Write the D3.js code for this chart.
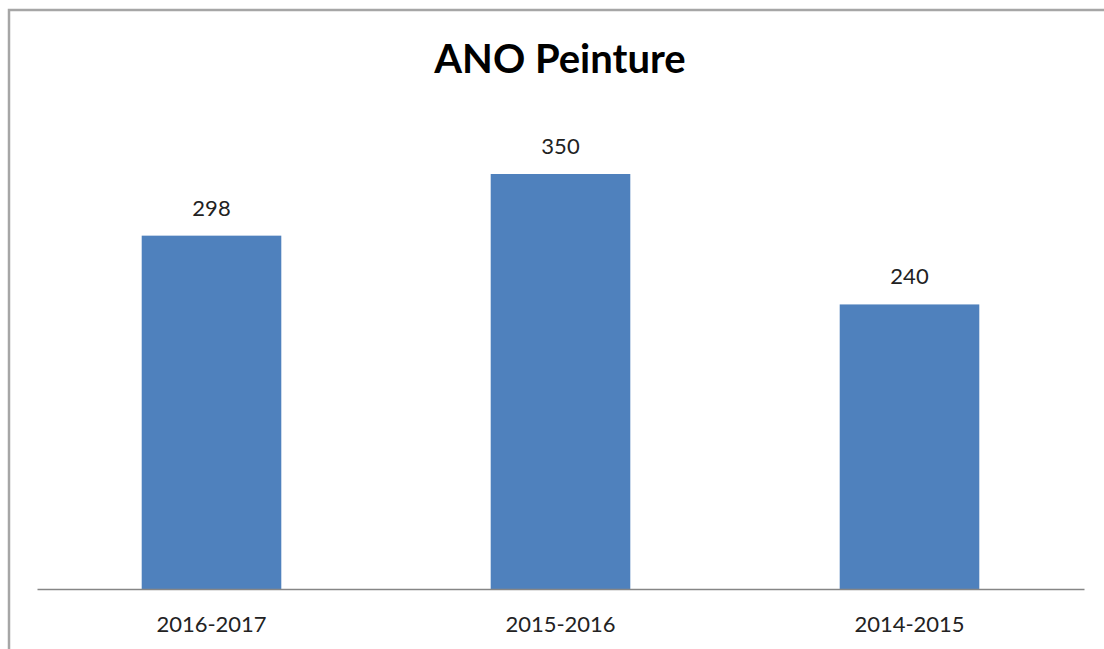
<!DOCTYPE html>
<html><head><meta charset="utf-8">
<script src="https://cdn.jsdelivr.net/npm/d3@7"></script>
<style>body{margin:0;background:#fff;}svg{display:block;}</style>
</head><body>
<svg id="c" width="1104" height="649"></svg>
<script>
const categories = ["2016-2017", "2015-2016", "2014-2015"];
const values = [298, 350, 240];
const title = "ANO Peinture";

const svg = d3.select("#c");
const font = "Lato, 'Open Sans', sans-serif";
// outer border (cropped at right/bottom)
svg.append("path").attr("d", "M9,660V10H1110").attr("fill", "none").attr("stroke", "#a6a6a6").attr("stroke-width", 2.5);

const x0 = 37, x1 = 1084, yBase = 589;
const x = d3.scaleBand().domain(categories).range([x0, x1]).paddingInner(0.6).paddingOuter(0.3);
const y = d3.scaleLinear().domain([0, 400]).range([yBase, yBase - 400 * 415 / 350]);

svg.append("text").attr("x", 560).attr("y", 73).attr("text-anchor", "middle")
  .attr("font-family", font).attr("font-weight", "bold").attr("font-size", 40).attr("fill", "#000").text(title);

svg.selectAll("rect.bar").data(values).join("rect").attr("class", "bar")
  .attr("x", (d, i) => x(categories[i])).attr("width", x.bandwidth())
  .attr("y", d => y(d)).attr("height", d => y(0) - y(d)).attr("fill", "#4f81bd");

svg.selectAll("text.val").data(values).join("text").attr("class", "val")
  .attr("x", (d, i) => x(categories[i]) + x.bandwidth() / 2).attr("y", d => y(d) - 20)
  .attr("text-anchor", "middle").attr("font-family", font).attr("font-size", 22).attr("fill", "#222").text(d => d);

const ax = svg.append("g").attr("transform", `translate(0,${yBase})`).call(d3.axisBottom(x).tickSize(0).tickPadding(27));
ax.select(".domain").attr("stroke", "#868686").attr("stroke-width", 1.5);
ax.selectAll("text").attr("font-family", font).attr("font-size", 22).attr("fill", "#222");
</script>
</body></html>
